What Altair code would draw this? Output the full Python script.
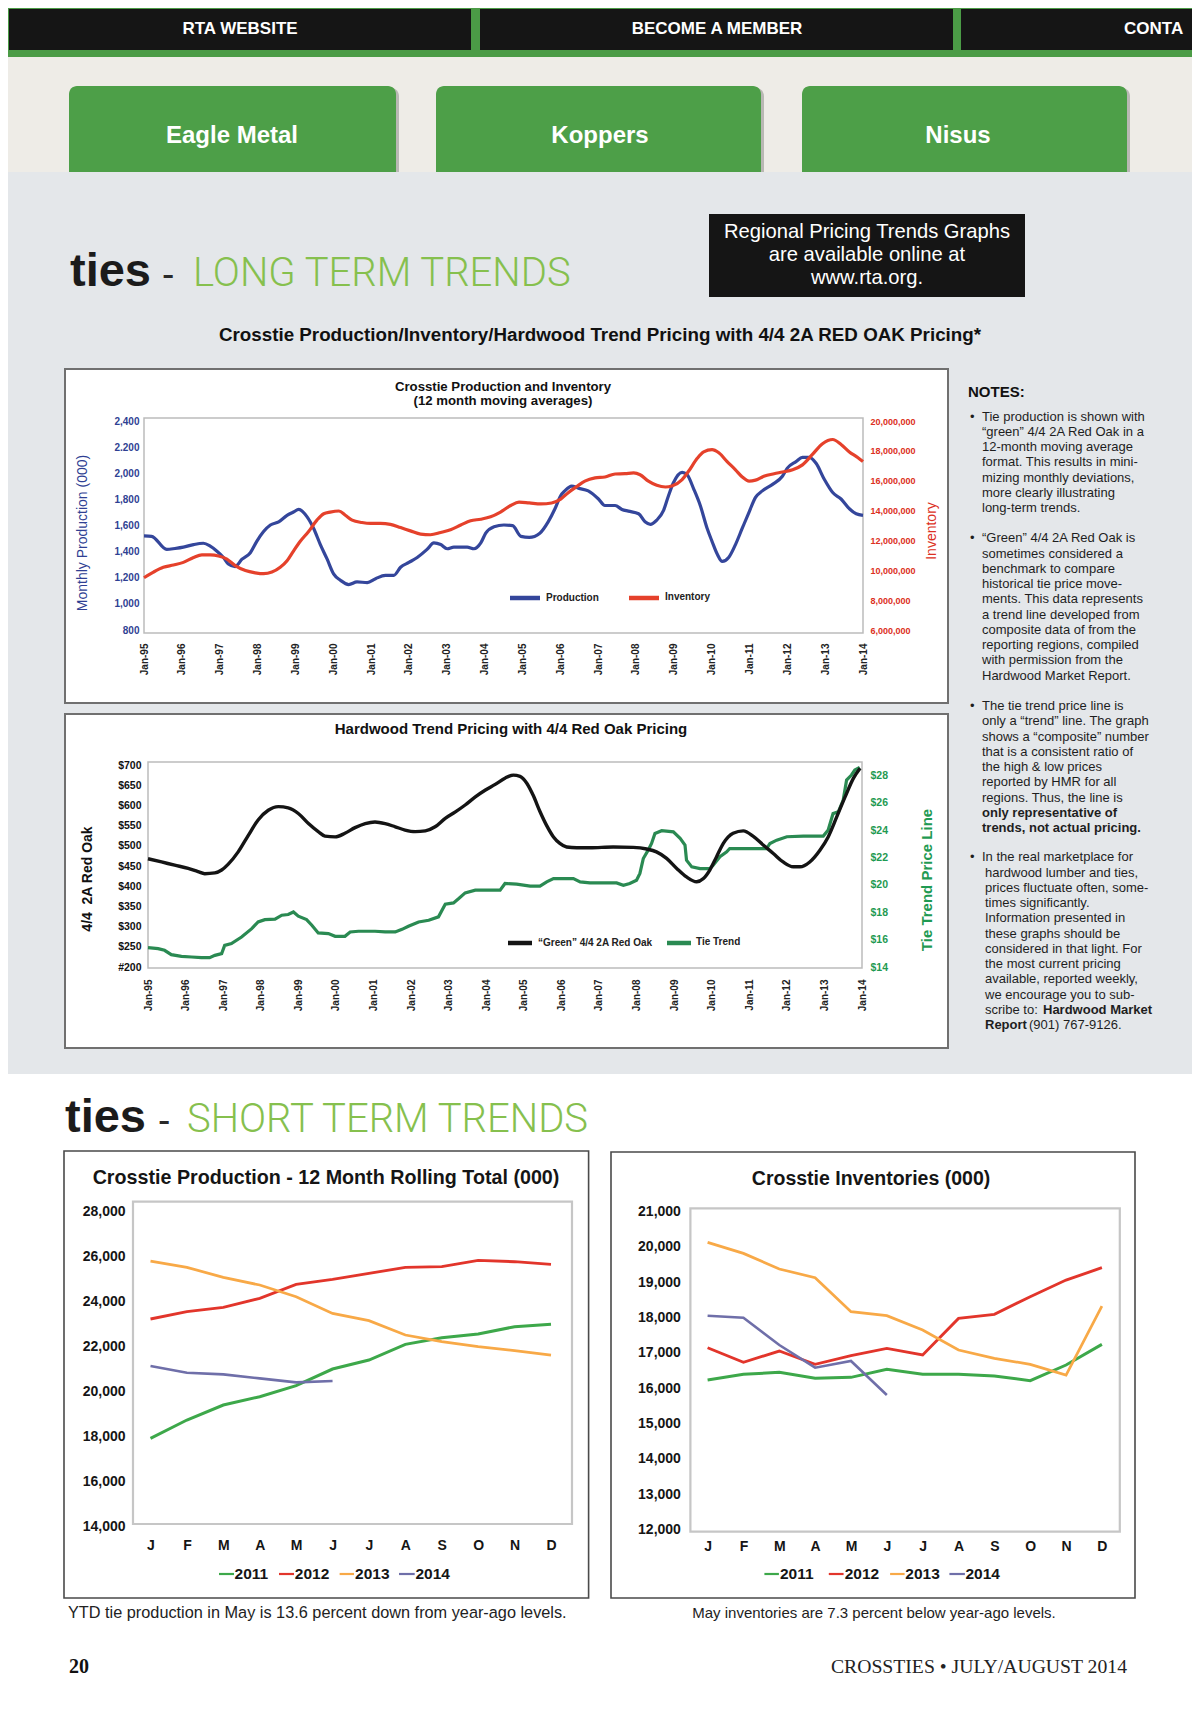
import json
import altair as alt
import pandas as pd

# ------------------------------------------------------------------ data
# Long-term chart 1 (x = years after Jan-95)
LT_TICK_LABELS = ["Jan-95", "Jan-96", "Jan-97", "Jan-98", "Jan-99", "Jan-00", "Jan-01",
                  "Jan-02", "Jan-03", "Jan-04", "Jan-05", "Jan-06", "Jan-07", "Jan-08",
                  "Jan-09", "Jan-10", "Jan-11", "Jan-12", "Jan-13", "Jan-14"]
PROD_T = [0.00, 0.20, 0.60, 0.82, 1.04, 1.31, 1.57, 1.75, 1.92, 2.10, 2.23, 2.41, 2.59, 2.81, 2.98,
          3.16, 3.34, 3.56, 3.78, 3.95, 4.09, 4.31, 4.48, 4.66, 4.84, 5.01, 5.19, 5.41, 5.63, 5.90,
          6.12, 6.38, 6.60, 6.78, 7.00, 7.22, 7.48, 7.66, 7.84, 8.01, 8.19, 8.54, 8.72, 8.90, 9.03,
          9.25, 9.51, 9.74, 9.96, 10.18, 10.46, 10.68, 10.86, 11.01, 11.12, 11.30, 11.48, 11.74,
          12.01, 12.18, 12.45, 12.63, 12.80, 13.07, 13.24, 13.38, 13.55, 13.73, 13.86, 13.99,
          14.22, 14.35, 14.53, 14.70, 14.88, 15.01, 15.15, 15.28, 15.45, 15.63, 15.81, 15.99,
          16.16, 16.34, 16.61, 16.87, 17.00, 17.23, 17.40, 17.58, 17.76, 17.98, 18.20, 18.42,
          18.64, 18.82, 19.00]
PRODUCTION = [1520, 1517, 1417, 1424, 1434, 1454, 1464, 1442, 1405, 1355, 1305, 1285, 1342, 1392,
              1479, 1554, 1604, 1628, 1678, 1703, 1723, 1666, 1579, 1454, 1342, 1230, 1181, 1148,
              1168, 1163, 1193, 1218, 1218, 1280, 1317, 1355, 1417, 1467, 1454, 1422, 1434, 1434,
              1422, 1467, 1541, 1591, 1604, 1599, 1517, 1509, 1541, 1628, 1728, 1828, 1865, 1902,
              1885, 1865, 1803, 1753, 1753, 1723, 1710, 1690, 1628, 1609, 1641, 1716, 1828, 1927,
              2007, 1989, 1877, 1753, 1579, 1479, 1380, 1325, 1355, 1454, 1579, 1703, 1815, 1865,
              1915, 1977, 2039, 2089, 2121, 2121, 2076, 1952, 1852, 1803, 1728, 1690, 1678]
INV_T = [0.00, 0.25, 0.51, 0.78, 1.04, 1.31, 1.53, 1.75, 1.97, 2.19, 2.41, 2.68, 2.94, 3.16, 3.38,
         3.60, 3.78, 3.95, 4.13, 4.35, 4.57, 4.75, 4.92, 5.15, 5.32, 5.50, 5.76, 5.99, 6.25, 6.51,
         6.78, 7.04, 7.31, 7.57, 7.84, 8.10, 8.37, 8.63, 8.90, 9.16, 9.42, 9.69, 9.91, 10.18,
         10.49, 10.77, 11.01, 11.21, 11.43, 11.65, 11.92, 12.18, 12.45, 12.71, 12.94, 13.11,
         13.33, 13.55, 13.78, 13.95, 14.22, 14.39, 14.62, 14.79, 15.01, 15.19, 15.41, 15.63,
         15.81, 15.99, 16.16, 16.38, 16.65, 16.87, 17.14, 17.40, 17.67, 17.93, 18.20, 18.42,
         18.64, 18.86, 19.00]
INVENTORY = [9500000, 9880000, 10200000, 10350000, 10530000, 10860000, 11030000, 11030000,
             10960000, 10750000, 10310000, 9980000, 9830000, 9770000, 9880000, 10200000, 10640000,
             11290000, 11940000, 12600000, 13360000, 13790000, 13900000, 13970000, 13690000,
             13360000, 13200000, 13140000, 13140000, 13080000, 12860000, 12640000, 12420000,
             12380000, 12530000, 12710000, 13030000, 13320000, 13420000, 13580000, 13900000,
             14340000, 14560000, 14510000, 14450000, 14510000, 14770000, 15200000, 15600000,
             15970000, 16190000, 16250000, 16450000, 16470000, 16520000, 16400000, 15970000,
             15690000, 15580000, 15650000, 16080000, 16630000, 17500000, 17930000, 18080000,
             17870000, 17280000, 16730000, 16250000, 15970000, 16040000, 16300000, 16470000,
             16580000, 16730000, 17060000, 17780000, 18480000, 18760000, 18430000, 17930000,
             17560000, 17280000]
PROD_TICKS = [800, 1000, 1200, 1400, 1600, 1800, 2000, 2200, 2400]
PROD_TICK_LABELS = ["800", "1,000", "1,200", "1,400", "1,600", "1,800", "2,000", "2.200", "2,400"]
INV_TICKS = [6000000, 8000000, 10000000, 12000000, 14000000, 16000000, 18000000, 20000000]
INV_TICK_LABELS = ["6,000,000", "8,000,000", "10,000,000", "12,000,000", "14,000,000",
                   "16,000,000", "18,000,000", "20,000,000"]

# Long-term chart 2
OAK_T = [0.00, 0.36, 0.71, 1.07, 1.33, 1.51, 1.78, 1.96, 2.13, 2.40, 2.67, 2.93, 3.20, 3.47, 3.73,
         4.00, 4.27, 4.53, 4.71, 4.98, 5.24, 5.51, 5.78, 6.04, 6.31, 6.58, 6.84, 7.11, 7.38, 7.64,
         7.91, 8.18, 8.44, 8.71, 8.98, 9.24, 9.51, 9.72, 9.90, 10.08, 10.25, 10.43, 10.61, 10.79,
         10.96, 11.14, 11.41, 11.76, 12.38, 12.91, 13.27, 13.53, 13.80, 14.07, 14.33, 14.60,
         14.78, 14.95, 15.13, 15.31, 15.57, 15.84, 16.10, 16.37, 16.64, 16.90, 17.17, 17.35,
         17.61, 17.88, 18.10, 18.33, 18.55, 18.77, 18.95]
RED_OAK = [468, 460, 452, 444, 436, 431, 433, 440, 454, 485, 526, 564, 588, 597, 594, 580, 555,
           535, 524, 522, 531, 545, 555, 559, 555, 547, 539, 535, 537, 547, 568, 584, 601, 621,
           638, 652, 668, 675, 672, 655, 625, 585, 550, 522, 506, 497, 495, 495, 497, 496, 492,
           485, 469, 444, 423, 411, 419, 440, 473, 506, 531, 537, 524, 502, 481, 460, 448, 448,
           460, 489, 522, 572, 621, 667, 692]
TIE_T = [0.00, 0.27, 0.44, 0.62, 0.89, 1.16, 1.42, 1.64, 1.78, 1.96, 2.04, 2.22, 2.49, 2.76, 2.93,
         3.11, 3.38, 3.56, 3.73, 3.87, 4.00, 4.22, 4.36, 4.53, 4.80, 4.98, 5.24, 5.38, 5.60, 6.04,
         6.31, 6.58, 6.76, 6.93, 7.20, 7.47, 7.73, 7.91, 8.13, 8.27, 8.44, 8.71, 9.37, 9.50, 9.81,
         10.17, 10.43, 10.61, 10.79, 11.32, 11.50, 11.76, 12.47, 12.65, 12.82, 13.00, 13.09,
         13.18, 13.31, 13.40, 13.49, 13.67, 13.98, 14.16, 14.29, 14.33, 14.47, 14.69, 14.95,
         15.04, 15.22, 15.40, 15.48, 16.46, 16.55, 16.73, 17.00, 17.44, 17.97, 18.10, 18.23,
         18.37, 18.50, 18.59, 18.72, 18.81, 18.94]
TIE_TREND = [15.41, 15.34, 15.22, 14.90, 14.78, 14.73, 14.68, 14.68, 14.85, 14.98, 15.58, 15.71,
             16.19, 16.80, 17.29, 17.46, 17.49, 17.78, 17.83, 18.02, 17.71, 17.46, 17.05, 16.49,
             16.44, 16.24, 16.24, 16.56, 16.61, 16.61, 16.56, 16.56, 16.75, 16.97, 17.29, 17.41,
             17.66, 18.58, 18.68, 19.00, 19.41, 19.61, 19.61, 20.10, 20.05, 19.90, 19.90, 20.22,
             20.46, 20.46, 20.22, 20.14, 20.14, 19.97, 20.10, 20.34, 20.83, 21.92, 22.53, 23.02,
             23.75, 23.95, 23.87, 23.39, 22.90, 21.80, 21.31, 21.19, 21.19, 21.44, 22.05, 22.41,
             22.65, 22.65, 23.02, 23.26, 23.51, 23.56, 23.56, 24.00, 25.20, 25.33, 26.19, 27.65,
             28.02, 28.38, 28.58]
OAK_TICKS = [200, 250, 300, 350, 400, 450, 500, 550, 600, 650, 700]
OAK_TICK_LABELS = ["#200", "$250", "$300", "$350", "$400", "$450", "$500", "$550", "$600",
                   "$650", "$700"]
TIE_TICKS = [14, 16, 18, 20, 22, 24, 26, 28]
TIE_TICK_LABELS = ["$14", "$16", "$18", "$20", "$22", "$24", "$26", "$28"]

# Short-term charts
MONTHS = ["J", "F", "M", "A", "M", "J", "J", "A", "S", "O", "N", "D"]
ST_YEARS = ["2011", "2012", "2013", "2014"]
ST_COLORS = ["#3da84a", "#e2352b", "#f8a947", "#6f6fa9"]
ST_PROD = {
    "2011": [17926, 18741, 19407, 19778, 20267, 21007, 21407, 22104, 22400, 22563, 22889, 22993],
    "2012": [23230, 23556, 23748, 24148, 24770, 24993, 25259, 25526, 25556, 25837, 25778, 25659],
    "2013": [25807, 25526, 25081, 24741, 24222, 23481, 23156, 22518, 22222, 22000, 21822, 21630],
    "2014": [21141, 20844, 20770, 20593, 20415, 20474],
}
ST_PROD_TICKS = [14000, 16000, 18000, 20000, 22000, 24000, 26000, 28000]
ST_PROD_TICK_LABELS = ["14,000", "16,000", "18,000", "20,000", "22,000", "24,000", "26,000", "28,000"]
ST_INV = {
    "2011": [16230, 16391, 16448, 16278, 16306, 16533, 16391, 16391, 16344, 16212, 16655, 17241],
    "2012": [17146, 16731, 17052, 16674, 16920, 17128, 16939, 17977, 18091, 18591, 19063, 19413],
    "2013": [20130, 19819, 19375, 19130, 18166, 18053, 17647, 17080, 16844, 16674, 16372, 18327],
    "2014": [18053, 17996, 17222, 16580, 16769, 15806],
}
ST_INV_TICKS = [12000, 13000, 14000, 15000, 16000, 17000, 18000, 19000, 20000, 21000]
ST_INV_TICK_LABELS = ["12,000", "13,000", "14,000", "15,000", "16,000", "17,000", "18,000",
                      "19,000", "20,000", "21,000"]

# Notes text
NOTES = [
    [("Tie production is shown with", False), ("“green” 4/4 2A Red Oak in a", False),
     ("12-month moving average", False), ("format. This results in mini-", False),
     ("mizing monthly deviations,", False), ("more clearly illustrating", False),
     ("long-term trends.", False)],
    [("“Green” 4/4 2A Red Oak is", False), ("sometimes considered a", False),
     ("benchmark to compare", False), ("historical tie price move-", False),
     ("ments. This data represents", False), ("a trend line developed from", False),
     ("composite data of from the", False), ("reporting regions, compiled", False),
     ("with permission from the", False), ("Hardwood Market Report.", False)],
    [("The tie trend price line is", False), ("only a “trend” line. The graph", False),
     ("shows a “composite” number", False), ("that is a consistent ratio of", False),
     ("the high & low prices", False), ("reported by HMR for all", False),
     ("regions. Thus, the line is", False), ("only representative of", True),
     ("trends, not actual pricing.", True)],
    [("In the real marketplace for", False), ("hardwood lumber and ties,", False),
     ("prices fluctuate often, some-", False), ("times significantly.", False),
     ("Information presented in", False), ("these graphs should be", False),
     ("considered in that light. For", False), ("the most current pricing", False),
     ("available, reported weekly,", False), ("we encourage you to sub-", False),
     ("scribe to: ", False), ("Report", True)],
]
NOTES_TAIL = [("Hardwood Market", True), ("(901) 767-9126.", False)]

# ------------------------------------------------------------------ layout / style
W, H = 1184, 1705
M = 8
SANS = "Liberation Sans, Arial, Helvetica, sans-serif"
SERIF = "Liberation Serif, Times New Roman, serif"
LIGHT = "Roboto, Liberation Sans, sans-serif"

BLUE_LINE, BLUE_TEXT = "#34469b", "#2f3f93"
RED_LINE, RED_TEXT = "#e5412b", "#dc2f22"
OAK_COLOR = "#141414"
TIE_LINE, TIE_TEXT = "#2a8a52", "#1f9a52"
HEAD_GREEN = "#86c04e"


def px(v):
    return v - M


def cscale(axis):
    if axis == "x":
        return alt.Scale(domain=[M, M + W], range=[0, W], nice=False, zero=False)
    return alt.Scale(domain=[M, M + H], range=[0, H], nice=False, zero=False)


def rects(rows, **mk):
    df = pd.DataFrame(rows, columns=["x", "y", "x2", "y2"])
    return alt.Chart(df).mark_rect(**mk).encode(
        x=alt.X("x:Q", scale=cscale("x"), axis=None), x2="x2:Q",
        y=alt.Y("y:Q", scale=cscale("y"), axis=None), y2="y2:Q")


def texts(rows, **mk):
    df = pd.DataFrame(rows, columns=["x", "y", "t"])
    return alt.Chart(df).mark_text(**mk).encode(
        x=alt.X("x:Q", scale=cscale("x"), axis=None),
        y=alt.Y("y:Q", scale=cscale("y"), axis=None),
        text="t:N")


def segs(rows, **mk):
    df = pd.DataFrame(rows, columns=["x", "x2", "y", "c"])
    return alt.Chart(df).mark_rule(**mk).encode(
        x=alt.X("x:Q", scale=cscale("x"), axis=None), x2="x2:Q",
        y=alt.Y("y:Q", scale=cscale("y"), axis=None),
        color=alt.Color("c:N", scale=None))


def ax(**kw):
    base = dict(grid=False, ticks=False, domain=False, title=None, labelFlush=False,
                labelOverlap=False, zindex=2)
    base.update(kw)
    return alt.Axis(**base)


def lab_expr(labels, start, step):
    return f"{json.dumps(labels)}[round((datum.value - {start}) / {step})]"


layers = []

# ---------------- page backgrounds
layers.append(rects([(0, 0, 1200, 172)], color="#eeece7"))
layers.append(rects([(0, 0, 1200, 57)], color="#4b9b46"))
layers.append(rects([(9, 9, 471, 50), (480, 9, 953, 50), (961, 9, 1200, 50)], color="#151515"))
layers.append(rects([(0, 172, 1200, 1074)], color="#e4e7ea"))
layers.append(rects([(71, 88, 399, 172), (438, 88, 764, 172), (804, 88, 1130, 172)],
                    color="#000000", opacity=0.22, cornerRadiusTopLeft=8, cornerRadiusTopRight=8))
layers.append(rects([(69, 86, 396, 172), (436, 86, 761, 172), (802, 86, 1127, 172)],
                    color="#4d9f48", cornerRadiusTopLeft=8, cornerRadiusTopRight=8))
layers.append(texts([(240, 29, "RTA WEBSITE"), (717, 29, "BECOME A MEMBER")],
                    font=SANS, fontSize=17, fontWeight="bold", color="#ffffff",
                    align="center", baseline="middle"))
layers.append(texts([(1124, 29, "CONTA")], font=SANS, fontSize=17, fontWeight="bold",
                    color="#ffffff", align="left", baseline="middle"))
layers.append(texts([(232, 136, "Eagle Metal"), (600, 136, "Koppers"), (958, 136, "Nisus")],
                    font=SANS, fontSize=24, fontWeight="bold", color="#ffffff",
                    align="center", baseline="middle"))

# ---------------- headings
layers.append(texts([(70, 286, "ties"), (65, 1132, "ties")], font=SANS, fontSize=47,
                    fontWeight="bold", color="#1b1b1b", align="left", baseline="alphabetic"))
layers.append(texts([(162, 286, "-"), (158, 1132, "-")], font=SANS, fontSize=37,
                    color="#2a2a2a", align="left", baseline="alphabetic"))
layers.append(texts([(193, 286, "LONG TERM TRENDS"), (187, 1132, "SHORT TERM TRENDS")],
                    font=LIGHT, fontSize=40, fontWeight=300, color=HEAD_GREEN, align="left",
                    baseline="alphabetic"))
layers.append(rects([(709, 214, 1025, 297)], color="#151515"))
layers.append(texts([(867, 232, "Regional Pricing Trends Graphs"),
                     (867, 255, "are available online at"), (867, 278, "www.rta.org.")],
                    font=SANS, fontSize=20.2, color="#ffffff", align="center", baseline="middle"))
layers.append(texts([(600, 335, "Crosstie Production/Inventory/Hardwood Trend Pricing with 4/4 2A RED OAK Pricing*")],
                    font=SANS, fontSize=18.8, fontWeight="bold", color="#111111", align="center",
                    baseline="middle"))

# ---------------- chart boxes and plot frames
layers.append(rects([(65, 369, 948, 703), (65, 714, 948, 1048)], fill="#ffffff",
                    stroke="#707070", strokeWidth=2))
layers.append(rects([(64, 1151, 588.6, 1598), (611, 1152, 1135, 1598)], fill="#ffffff",
                    stroke="#4a4a4a", strokeWidth=1.6))
layers.append(rects([(144, 418, 863, 633), (148, 762, 862, 968)], fillOpacity=0,
                    stroke="#bcbcbc", strokeWidth=1.5))
layers.append(rects([(133, 1201.7, 572, 1524), (690.4, 1208.3, 1119.8, 1531.7)], fillOpacity=0,
                    stroke="#c6c6c6", strokeWidth=2.2))

# ---------------- chart 1 texts
layers.append(texts([(503, 387, "Crosstie Production and Inventory"),
                     (503, 401, "(12 month moving averages)")], font=SANS, fontSize=13.2,
                    fontWeight="bold", color="#111111", align="center", baseline="middle"))
layers.append(texts([(83, 533, "Monthly Production (000)")], font=SANS, fontSize=14,
                    color=BLUE_TEXT, angle=270, align="center", baseline="middle"))
layers.append(texts([(932, 531, "Inventory")], font=SANS, fontSize=14, color=RED_TEXT,
                    angle=270, align="center", baseline="middle"))
layers.append(segs([(510, 540, 598, BLUE_LINE), (629, 659, 598, RED_LINE)], strokeWidth=4.5))
layers.append(texts([(546, 598, "Production"), (665, 597, "Inventory")], font=SANS,
                    fontSize=10, fontWeight="bold", color="#222222", align="left",
                    baseline="middle"))

# ---------------- chart 2 texts
layers.append(texts([(511, 729, "Hardwood Trend Pricing with 4/4 Red Oak Pricing")], font=SANS,
                    fontSize=15, fontWeight="bold", color="#111111", align="center",
                    baseline="middle"))
layers.append(texts([(88, 879, "4/4\u00a0 2A Red Oak")], font=SANS, fontSize=14,
                    fontWeight="bold", color="#111111", angle=270, align="center",
                    baseline="middle"))
layers.append(texts([(927, 880, "Tie Trend Price Line")], font=SANS, fontSize=15,
                    fontWeight="bold", color=TIE_TEXT, angle=270, align="center",
                    baseline="middle"))
layers.append(segs([(508, 532, 943, OAK_COLOR), (667, 691, 943, TIE_LINE)], strokeWidth=4.5))
layers.append(texts([(538, 943, "“Green” 4/4 2A Red Oak"), (696, 942, "Tie Trend")], font=SANS,
                    fontSize=10, fontWeight="bold", color="#222222", align="left",
                    baseline="middle"))

# ---------------- notes
layers.append(texts([(968, 392, "NOTES:")], font=SANS, fontSize=15, fontWeight="bold",
                    color="#111111", align="left", baseline="middle"))
NOTE_START = [416.7, 538.3, 706.0, 857.3]
NOTE_STEP = 15.25
reg_rows, bold_rows, bullet_rows = [], [], []
for b, lines in enumerate(NOTES):
    y0 = NOTE_START[b]
    bullet_rows.append((970, y0, "•"))
    for i, (txt, bold) in enumerate(lines):
        x = 982 if (b < 3 or i == 0) else 985
        (bold_rows if bold else reg_rows).append((x, y0 + i * NOTE_STEP, txt))
y_last = NOTE_START[3] + 10 * NOTE_STEP
bold_rows.append((1043, y_last, NOTES_TAIL[0][0]))
reg_rows.append((1029, y_last + NOTE_STEP, NOTES_TAIL[1][0]))
layers.append(texts(bullet_rows, font=SANS, fontSize=13, color="#1e1e1e", align="left",
                    baseline="middle"))
layers.append(texts(reg_rows, font=SANS, fontSize=13, color="#1e1e1e", align="left",
                    baseline="middle"))
layers.append(texts(bold_rows, font=SANS, fontSize=13, fontWeight="bold", color="#1e1e1e",
                    align="left", baseline="middle"))

# ---------------- short-term texts
layers.append(texts([(326, 1178, "Crosstie Production - 12 Month Rolling Total (000)")],
                    font=SANS, fontSize=19.7, fontWeight="bold", color="#151515", align="center",
                    baseline="middle"))
layers.append(texts([(871, 1179, "Crosstie Inventories (000)")], font=SANS, fontSize=19.5,
                    fontWeight="bold", color="#151515", align="center", baseline="middle"))
ST_LEG1 = [(219, 234), (279, 294), (339.6, 354), (399, 414.7)]
ST_LEG1_TX = [234.6, 294.8, 355.1, 415.4]
ST_LEG2 = [(764.4, 778.9), (828.8, 843.6), (890.1, 904.6), (949.4, 964.9)]
ST_LEG2_TX = [780, 844.7, 905.3, 965.5]
leg_rows, leg_txt = [], []
for i, yr in enumerate(ST_YEARS):
    leg_rows.append((ST_LEG1[i][0], ST_LEG1[i][1], 1574, ST_COLORS[i]))
    leg_rows.append((ST_LEG2[i][0], ST_LEG2[i][1], 1574, ST_COLORS[i]))
    leg_txt.append((ST_LEG1_TX[i], 1574, yr))
    leg_txt.append((ST_LEG2_TX[i], 1574, yr))
layers.append(segs(leg_rows, strokeWidth=2.2))
layers.append(texts(leg_txt, font=SANS, fontSize=15.5, fontWeight="bold", color="#151515",
                    align="left", baseline="middle"))
layers.append(texts([(68, 1613, "YTD tie production in May is 13.6 percent down from year-ago levels.")],
                    font=SANS, fontSize=16.3, color="#222222", align="left", baseline="middle"))
layers.append(texts([(874, 1613, "May inventories are 7.3 percent below year-ago levels.")],
                    font=SANS, fontSize=15, color="#222222", align="center", baseline="middle"))
layers.append(texts([(69, 1667, "20")], font=SERIF, fontSize=20, fontWeight="bold",
                    color="#111111", align="left", baseline="middle"))
layers.append(texts([(1127, 1667, "CROSSTIES • JULY/AUGUST 2014")], font=SERIF, fontSize=19.7,
                    color="#222222", align="right", baseline="middle"))

# ---------------- long-term chart 1 data
lt1_x = alt.Scale(domain=[0, 19], range=[px(144), px(863)], nice=False, zero=False)
lt1_yr = [px(630), px(421)]
prod_df = pd.DataFrame({"t": PROD_T, "v": PRODUCTION})
inv_df = pd.DataFrame({"t": INV_T, "v": INVENTORY})
layers.append(alt.Chart(prod_df).mark_line(color=BLUE_LINE, strokeWidth=3.2,
                                           interpolate="monotone").encode(
    x=alt.X("t:Q", scale=lt1_x, axis=ax(
        orient="bottom", offset=-(H - px(633)), values=list(range(20)),
        labelExpr=lab_expr(LT_TICK_LABELS, 0, 1), labelAngle=270, labelAlign="right",
        labelBaseline="middle", labelPadding=10, labelFont=SANS, labelFontSize=10,
        labelFontWeight="bold", labelColor="#222222")),
    y=alt.Y("v:Q", scale=alt.Scale(domain=[800, 2400], range=lt1_yr, nice=False, zero=False),
            axis=ax(orient="left", offset=-px(144), values=PROD_TICKS,
                    labelExpr=lab_expr(PROD_TICK_LABELS, 800, 200), labelPadding=5,
                    labelFont=SANS, labelFontSize=10, labelFontWeight="bold",
                    labelColor=BLUE_TEXT))))
layers.append(alt.Chart(inv_df).mark_line(color=RED_LINE, strokeWidth=3.2,
                                          interpolate="monotone").encode(
    x=alt.X("t:Q", scale=lt1_x, axis=None),
    y=alt.Y("v:Q", scale=alt.Scale(domain=[6000000, 20000000], range=lt1_yr, nice=False,
                                   zero=False),
            axis=ax(orient="right", offset=-(W - px(863)), values=INV_TICKS,
                    labelExpr=lab_expr(INV_TICK_LABELS, 6000000, 2000000), labelPadding=7,
                    labelFont=SANS, labelFontSize=9, labelFontWeight="bold",
                    labelColor=RED_TEXT))))

# ---------------- long-term chart 2 data
lt2_x = alt.Scale(domain=[0, 19], range=[px(148), px(862)], nice=False, zero=False)
lt2_yr = [px(967), px(765)]
oak_df = pd.DataFrame({"t": OAK_T, "v": RED_OAK})
tie_df = pd.DataFrame({"t": TIE_T, "v": TIE_TREND})
layers.append(alt.Chart(tie_df).mark_line(color=TIE_LINE, strokeWidth=3.2).encode(
    x=alt.X("t:Q", scale=lt2_x, axis=ax(
        orient="bottom", offset=-(H - px(968)), values=list(range(20)),
        labelExpr=lab_expr(LT_TICK_LABELS, 0, 1), labelAngle=270, labelAlign="right",
        labelBaseline="middle", labelPadding=11, labelFont=SANS, labelFontSize=10,
        labelFontWeight="bold", labelColor="#222222")),
    y=alt.Y("v:Q", scale=alt.Scale(domain=[14, 28.75], range=lt2_yr, nice=False, zero=False),
            axis=ax(orient="right", offset=-(W - px(862)), values=TIE_TICKS,
                    labelExpr=lab_expr(TIE_TICK_LABELS, 14, 2), labelPadding=8,
                    labelFont=SANS, labelFontSize=10.5, labelFontWeight="bold",
                    labelColor=TIE_TEXT))))
layers.append(alt.Chart(oak_df).mark_line(color=OAK_COLOR, strokeWidth=3.4,
                                          interpolate="monotone").encode(
    x=alt.X("t:Q", scale=lt2_x, axis=None),
    y=alt.Y("v:Q", scale=alt.Scale(domain=[200, 700], range=lt2_yr, nice=False, zero=False),
            axis=ax(orient="left", offset=-px(148), values=OAK_TICKS,
                    labelExpr=lab_expr(OAK_TICK_LABELS, 200, 50), labelPadding=7,
                    labelFont=SANS, labelFontSize=10.5, labelFontWeight="bold",
                    labelColor="#111111"))))


# ---------------- short-term charts
def st_frame(series):
    rows = []
    for yr in ST_YEARS:
        for i, v in enumerate(series[yr]):
            rows.append({"m": i, "v": v, "yr": yr})
    return pd.DataFrame(rows)


def st_chart(series, x_rng, y_dom, y_rng, ticks, tick_labels, left_x, bottom_y, lab_pad_y,
             lab_pad_x):
    return alt.Chart(st_frame(series)).mark_line().encode(
        x=alt.X("m:Q", scale=alt.Scale(domain=[0, 11], range=[px(x_rng[0]), px(x_rng[1])],
                                       nice=False, zero=False),
                axis=ax(orient="bottom", offset=-(H - px(bottom_y)), values=list(range(12)),
                        labelExpr=lab_expr(MONTHS, 0, 1), labelBaseline="middle",
                        labelAlign="center", labelPadding=lab_pad_y, labelFont=SANS,
                        labelFontSize=14, labelFontWeight="bold", labelColor="#151515")),
        y=alt.Y("v:Q", scale=alt.Scale(domain=y_dom, range=[px(y_rng[0]), px(y_rng[1])],
                                       nice=False, zero=False),
                axis=ax(orient="left", offset=-px(left_x), values=ticks,
                        labelExpr=lab_expr(tick_labels, ticks[0], ticks[1] - ticks[0]),
                        labelPadding=lab_pad_x, labelFont=SANS, labelFontSize=14,
                        labelFontWeight="bold", labelColor="#151515")),
        color=alt.Color("yr:N", scale=alt.Scale(domain=ST_YEARS, range=ST_COLORS), legend=None),
        strokeWidth=alt.StrokeWidth("yr:N", scale=alt.Scale(domain=ST_YEARS,
                                                            range=[3, 2.6, 4, 4]),
                                    legend=None),
        detail="yr:N")


layers.append(st_chart(ST_PROD, (150.5, 551), [14000, 28000], (1526.7, 1211.7), ST_PROD_TICKS,
                       ST_PROD_TICK_LABELS, 133, 1524, 21, 8))
layers.append(st_chart(ST_INV, (707.6, 1101.9), [12000, 21000], (1529.3, 1211.7), ST_INV_TICKS,
                       ST_INV_TICK_LABELS, 690.4, 1531.7, 15, 10))

chart = alt.layer(*layers).resolve_scale(
    x="independent", y="independent", color="independent", strokeWidth="independent"
).resolve_axis(x="independent", y="independent").properties(
    width=W, height=H, padding=0, background="#ffffff",
    autosize=alt.AutoSizeParams(type="none")
).configure_view(strokeWidth=0)

chart.save("out.html", embed_options={"renderer": "svg", "actions": False})
